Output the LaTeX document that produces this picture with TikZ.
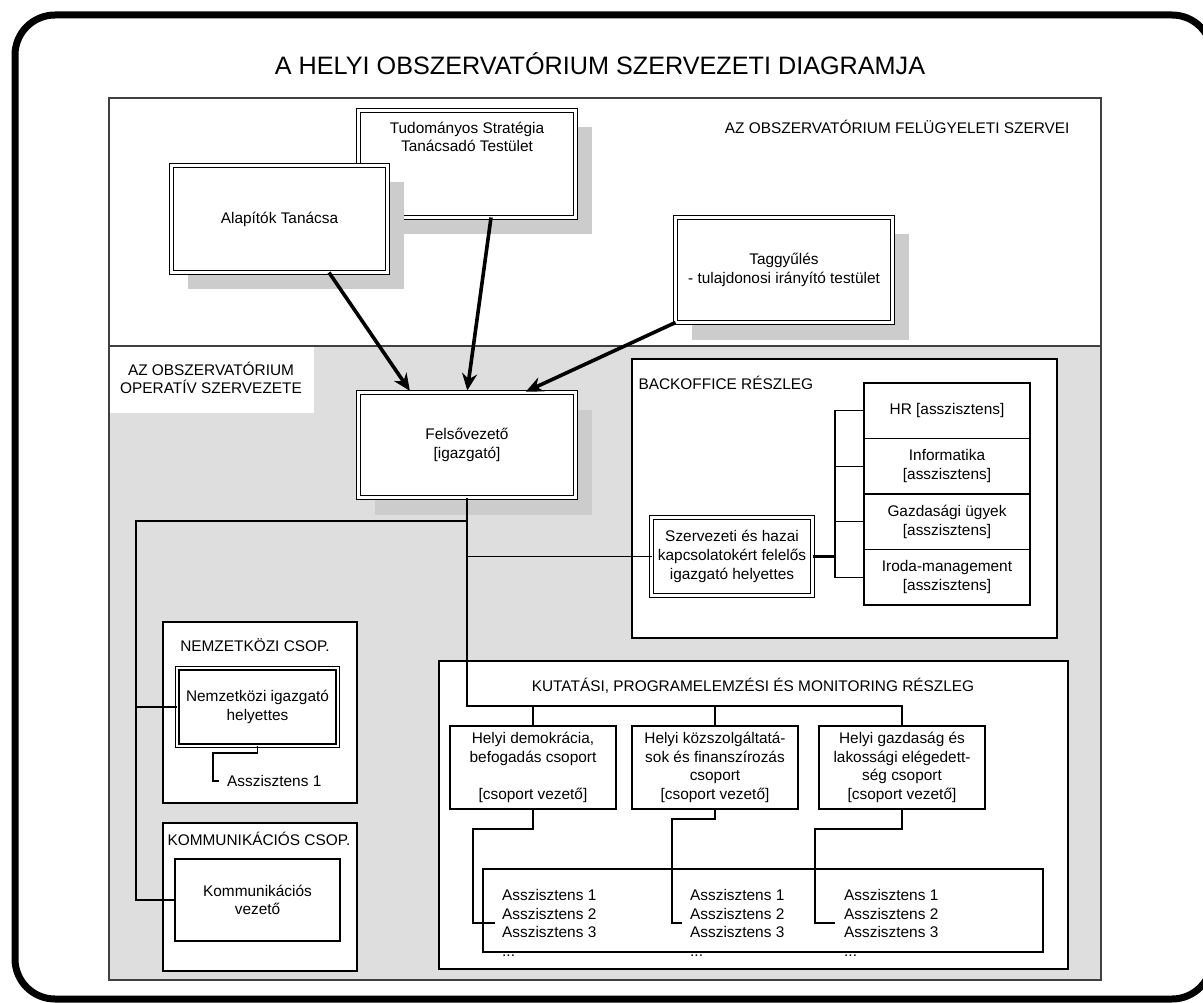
\documentclass[tikz,border=0pt]{standalone}
\usepackage{fontspec}
\setmainfont{Liberation Sans}
\usetikzlibrary{arrows.meta, shadows, calc}
\definecolor{opgrey}{HTML}{DEDEDE}
\definecolor{shadowgrey}{HTML}{CCCCCC}
\newcommand{\bodyfont}{\fontsize{15.4}{18.7}\selectfont}
\newcommand{\titlefont}{\fontsize{25.2}{30}\selectfont}
\tikzset{
    box/.style={draw=black, line width=1.2pt, fill=white, align=center, inner sep=2pt, outer sep=0pt},
    dbox/.style={box, line width=1.1pt, double=white, double distance=2.4pt},
    boxshadow/.style={drop shadow={shadow xshift=16pt, shadow yshift=-17pt, fill=shadowgrey, opacity=1}},
    conn/.style={draw=black, line width=1.2pt},
    boldconn/.style={draw=black, line width=2.4pt},
    feed/.style={draw=black, line width=3.6pt, shorten >=2pt, -{Stealth[length=17pt, width=15pt]}},
    frame/.style={draw=black!75, line width=1.3pt}
}

\begin{document}
\begin{tikzpicture}[x=1pt, y=-1pt]
    \tikzstyle{every node}=[font=\bodyfont];
    \useasboundingbox (0,0) rectangle (1203,1003);
    \draw[line width=7pt, rounded corners=40pt] (15,15) rectangle (1212,999);
    \node[font=\titlefont] (title) at (600,64) {A HELYI OBSZERVATÓRIUM SZERVEZETI DIAGRAMJA};
    % felugyeleti / operativ parts
    \fill[opgrey] (109,346) rectangle (1101,980);
    \node[fill=white, minimum width=206, minimum height=70, inner sep=0pt, align=center] (oplabel) at (211,378) {AZ OBSZERVATÓRIUM\\OPERATÍV SZERVEZETE};
    \draw[frame] (109,98) rectangle (1101,980);
    \draw[frame] (109,346) -- (1101,346);
    \node[anchor=east] (suplabel) at (1073,127) {AZ OBSZERVATÓRIUM FELÜGYELETI SZERVEI};
    \node[dbox, boxshadow, minimum width=217, minimum height=107] (tud) at (467,164) {};
    \node[align=center] (tudtext) at (467,137) {Tudományos Stratégia\\Tanácsadó Testület};
    \node[dbox, boxshadow, minimum width=216, minimum height=107] (alap) at (279.5,219) {Alapítók Tanácsa};
    \node[dbox, boxshadow, minimum width=217, minimum height=105] (tagg) at (784,270) {Taggyűlés\\- tulajdonosi irányító testület};
    \node[dbox, boxshadow, minimum width=217, minimum height=105] (felso) at (467,445) {Felsővezető\\{}[igazgató]};
    % backoffice
    \node[box, minimum width=425, minimum height=279] (back) at (844.5,498.5) {};
    \node[anchor=west] (backlabel) at (635,383) {BACKOFFICE RÉSZLEG};
    \node[dbox, minimum width=161, minimum height=78] (szerv) at (732,556.5) {Szervezeti és hazai\\kapcsolatokért felelős\\igazgató helyettes};
    \node[box, minimum width=166, minimum height=55.5] (hr) at (947,410.75) {HR [asszisztens]};
    \node[box, minimum width=166, minimum height=55.5] (info) at (947,466.25) {Informatika\\{}[asszisztens]};
    \node[box, minimum width=166, minimum height=55.5] (gazd) at (947,521.75) {Gazdasági ügyek\\{}[asszisztens]};
    \node[box, minimum width=166, minimum height=55.5] (iroda) at (947,577.25) {Iroda-management\\{}[asszisztens]};
    % csoportok
    \node[box, minimum width=194, minimum height=181] (nemzcsop) at (260,712.5) {};
    \node (nemzlabel) at (255,645) {NEMZETKÖZI CSOP.};
    \node[dbox, minimum width=160.5, minimum height=77.5] (nemzig) at (257.5,707) {Nemzetközi igazgató\\helyettes};
    \node[anchor=west, inner sep=3pt] (asz) at (224,781) {Asszisztens 1};
    \node[box, minimum width=194, minimum height=148] (kommcsop) at (260,897) {};
    \node (kommlabel) at (259,839) {KOMMUNIKÁCIÓS CSOP.};
    \node[box, minimum width=165, minimum height=82] (kommvez) at (257.5,900) {Kommunikációs\\vezető};
    % kutatasi reszleg
    \node[box, minimum width=629, minimum height=308] (kutat) at (753.5,815) {};
    \node (kutatlabel) at (753,686) {KUTATÁSI, PROGRAMELEMZÉSI ÉS MONITORING RÉSZLEG};
    \node[box, minimum width=166, minimum height=83] (g1) at (533,767.5) {Helyi demokrácia,\\befogadás csoport\\~\\{}[csoport vezető]};
    \node[box, minimum width=166, minimum height=83] (g2) at (715,767.5) {Helyi közszolgáltatá-\\sok és finanszírozás\\csoport\\{}[csoport vezető]};
    \node[box, minimum width=166, minimum height=83] (g3) at (902,767.5) {Helyi gazdaság és\\lakossági elégedett-\\ség csoport\\{}[csoport vezető]};
    \node[box, minimum width=560, minimum height=83] (asszbox) at (763,910.5) {};
    \node[anchor=west, align=left, inner sep=3pt] (a1) at (499,923) {Asszisztens 1\\Asszisztens 2\\Asszisztens 3\\...};
    \node[anchor=west, align=left, inner sep=3pt] (a2) at (687,923) {Asszisztens 1\\Asszisztens 2\\Asszisztens 3\\...};
    \node[anchor=west, align=left, inner sep=3pt] (a3) at (841,923) {Asszisztens 1\\Asszisztens 2\\Asszisztens 3\\...};
    % connectors
    \coordinate (kbus) at (467,706);
    \coordinate (lcorner) at (136,521);
    \coordinate (bbus) at (835,556.5);
    \coordinate (nstep) at (213,753);
    \coordinate (k1) at (473,829);
    \coordinate (k2) at (672,819);
    \coordinate (k3) at (815,829);
    \draw[conn] (felso.south) -- (kbus) -| (g3.north);
    \draw[conn] (g1.north) |- (kbus);
    \draw[conn] (g2.north) |- (kbus);
    \draw[conn] (felso.south |- lcorner) -- (lcorner) |- (nemzig.west);
    \draw[conn] (lcorner) |- (kommvez.west);
    \draw[conn] (felso.south |- szerv.west) -- (szerv.west);
    \draw[boldconn] (szerv.east) -- (bbus);
    \draw[conn] (hr.west) -| (bbus) |- (iroda.west);
    \draw[conn] (info.west) -- (info.west -| bbus);
    \draw[conn] (gazd.west) -- (gazd.west -| bbus);
    \draw[conn] (nemzig.south) |- (nstep) |- ([xshift=-5pt]asz.west);
    \draw[conn] (g1.south) |- (k1) |- ([xshift=-4pt]a1.west);
    \draw[conn] (g2.south) |- (k2) |- ([xshift=-5pt]a2.west);
    \draw[conn] (g3.south) |- (k3) |- ([xshift=-6pt]a3.west);
    \draw[feed] ([xshift=49.5pt]alap.south) -- ([xshift=-56pt]felso.north);
    \draw[feed] ([xshift=24pt]tud.south) -- (felso.north);
    \draw[feed] (tagg.south west) -- ([xshift=57pt]felso.north);
\end{tikzpicture}
\end{document}
